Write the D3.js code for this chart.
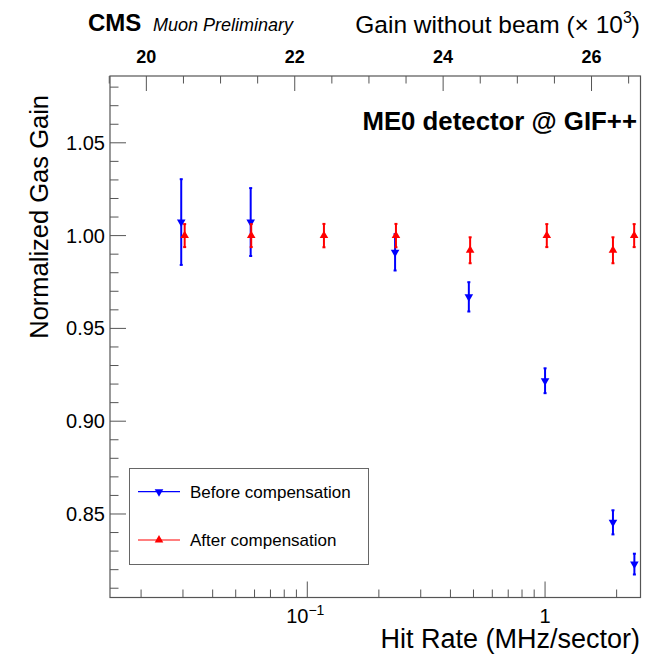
<!DOCTYPE html>
<html>
<head>
<meta charset="utf-8">
<script src="https://cdn.jsdelivr.net/npm/d3@7"></script>
<style>
  body { margin: 0; background: #fff; }
  svg text { font-family: "Liberation Sans", Arial, Helvetica, sans-serif; fill: #000; }
</style>
</head>
<body>
<div id="chart"></div>
<script>
// hit rate (MHz/sector) and normalized gain
var rateBefore = [0.0295, 0.0578, 0.234, 0.478, 1.0, 1.93, 2.375];
var gainBefore = [1.0073, 1.0073, 0.991, 0.967, 0.9218, 0.8455, 0.823];
var errBefore  = [0.0231, 0.0183, 0.0098, 0.0079, 0.0067, 0.0065, 0.0056];

var rateAfter = [0.0305, 0.0581, 0.1175, 0.236, 0.484, 1.017, 1.93, 2.37];
var gainAfter = [1.000, 1.000, 1.000, 1.000, 0.9921, 1.000, 0.9921, 1.000];
var errAfter  = [0.0062, 0.0062, 0.0063, 0.0063, 0.0070, 0.0062, 0.0070, 0.0062];

var yMajorTicks = [0.85, 0.90, 0.95, 1.00, 1.05];
var gainTicks = [20, 22, 24, 26];

var W = 646, H = 655;
var frameL = 110, frameR = 640.5, frameT = 76, frameB = 597.5;

var svg = d3.select("#chart").append("svg")
  .attr("width", W).attr("height", H);

var x = d3.scaleLog().domain([0.0148, 2.52]).range([frameL, frameR]);
var y = d3.scaleLinear().domain([0.805, 1.086]).range([frameB, frameT]);
var g = d3.scaleLinear().domain([19.51, 26.66]).range([frameL, frameR]);

var axisColor = "#555";

// frame
svg.append("rect")
  .attr("x", frameL).attr("y", frameT)
  .attr("width", frameR - frameL).attr("height", frameB - frameT)
  .attr("fill", "none").attr("stroke", axisColor).attr("stroke-width", 1.2);

// y ticks (every 0.01, major every 0.05)
var yTicks = d3.range(81, 109).map(function(i) { return i / 100; });
svg.selectAll(".ytick").data(yTicks).enter().append("line")
  .attr("x1", frameL).attr("x2", function(d) {
    return frameL + (Math.round(d * 100) % 5 === 0 ? 16 : 8.5);
  })
  .attr("y1", function(d) { return y(d); }).attr("y2", function(d) { return y(d); })
  .attr("stroke", axisColor).attr("stroke-width", 1);

svg.selectAll(".ylab").data(yMajorTicks).enter().append("text")
  .attr("x", 105).attr("y", function(d) { return y(d) + 7; })
  .attr("text-anchor", "end").style("font-size", "20px")
  .text(function(d) { return d.toFixed(2); });

// x ticks (log, minor at 2..9)
var xTicks = [];
[0.01, 0.1, 1].forEach(function(dec) {
  for (var k = 1; k <= 9; k++) {
    var v = dec * k;
    if (v >= x.domain()[0] && v <= x.domain()[1]) xTicks.push({v: v, major: k === 1});
  }
});
svg.selectAll(".xtick").data(xTicks).enter().append("line")
  .attr("x1", function(d) { return x(d.v); }).attr("x2", function(d) { return x(d.v); })
  .attr("y1", frameB).attr("y2", function(d) { return frameB - (d.major ? 16 : 8); })
  .attr("stroke", axisColor).attr("stroke-width", 1);

var xl1 = svg.append("text").attr("x", x(0.1) - 2).attr("y", 623)
  .attr("text-anchor", "middle").style("font-size", "20px");
xl1.append("tspan").text("10");
xl1.append("tspan").attr("dy", -8).style("font-size", "14px").text("\u22121");
svg.append("text").attr("x", x(1)).attr("y", 623)
  .attr("text-anchor", "middle").style("font-size", "20px").text("1");

// top gain axis (every 0.5, major every 2)
var gTicks = d3.range(39, 54).map(function(i) { return i / 2; });
svg.selectAll(".gtick").data(gTicks).enter().append("line")
  .attr("x1", function(d) { return g(d); }).attr("x2", function(d) { return g(d); })
  .attr("y1", frameT).attr("y2", function(d) { return frameT + (d % 2 === 0 ? 15 : 7.5); })
  .attr("stroke", axisColor).attr("stroke-width", 1);

svg.selectAll(".glab").data(gainTicks).enter().append("text")
  .attr("x", function(d) { return g(d); }).attr("y", 63)
  .attr("text-anchor", "middle").style("font-size", "18px").style("font-weight", "bold")
  .text(function(d) { return d; });

// titles
svg.append("text").attr("x", 640).attr("y", 648)
  .attr("text-anchor", "end").style("font-size", "27px")
  .text("Hit Rate (MHz/sector)");

svg.append("text")
  .attr("transform", "translate(48,95) rotate(-90)")
  .attr("text-anchor", "end").style("font-size", "25.5px")
  .text("Normalized Gas Gain");

var gt = svg.append("text").attr("x", 640).attr("y", 33)
  .attr("text-anchor", "end").style("font-size", "24.5px");
gt.append("tspan").text("Gain without beam (\u00d7 10");
gt.append("tspan").attr("dy", -10).style("font-size", "16px").text("3");
gt.append("tspan").attr("dy", 10).text(")");

svg.append("text").attr("x", 88).attr("y", 31)
  .style("font-size", "24px").style("font-weight", "bold").text("CMS");
svg.append("text").attr("x", 153).attr("y", 31)
  .style("font-size", "18px").style("font-style", "italic").text("Muon Preliminary");

svg.append("text").attr("x", 637).attr("y", 130)
  .attr("text-anchor", "end").style("font-size", "25.8px").style("font-weight", "bold")
  .text("ME0 detector @ GIF++");

// data series
var triangle = d3.symbol().type(d3.symbolTriangle).size(32);

function drawSeries(rates, gains, errs, color, down) {
  var pts = rates.map(function(r, i) { return {r: r, v: gains[i], e: errs[i]}; });
  var grp = svg.append("g");
  grp.selectAll(".bar").data(pts).enter().append("line")
    .attr("x1", function(d) { return x(d.r); }).attr("x2", function(d) { return x(d.r); })
    .attr("y1", function(d) { return y(d.v + d.e); }).attr("y2", function(d) { return y(d.v - d.e); })
    .attr("stroke", color).attr("stroke-width", 2);
  grp.selectAll(".cap").data(pts.concat(pts)).enter().append("line")
    .attr("x1", function(d) { return x(d.r) - 1.5; }).attr("x2", function(d) { return x(d.r) + 1.5; })
    .attr("y1", function(d, i) { return y(i < pts.length ? d.v + d.e : d.v - d.e); })
    .attr("y2", function(d, i) { return y(i < pts.length ? d.v + d.e : d.v - d.e); })
    .attr("stroke", color).attr("stroke-width", 2);
  grp.selectAll(".mk").data(pts).enter().append("path")
    .attr("d", triangle)
    .attr("transform", function(d) {
      return "translate(" + x(d.r) + "," + y(d.v) + ")" + (down ? " rotate(180)" : "");
    })
    .attr("fill", color);
}

drawSeries(rateBefore, gainBefore, errBefore, "#0000ff", true);
drawSeries(rateAfter, gainAfter, errAfter, "#ff0000", false);

// legend
var legend = svg.append("g");
legend.append("rect")
  .attr("x", 129.5).attr("y", 468.5).attr("width", 239).attr("height", 96)
  .attr("fill", "#fff").attr("stroke", "#666").attr("stroke-width", 1);

var legendItems = [
  {label: "Before compensation", color: "#0000ff", down: true, cy: 491.7},
  {label: "After compensation", color: "#ff0000", down: false, cy: 540}
];
legendItems.forEach(function(it) {
  legend.append("line").attr("x1", 138).attr("x2", 180)
    .attr("y1", it.cy).attr("y2", it.cy)
    .attr("stroke", it.color).attr("stroke-width", 1.2);
  legend.append("path").attr("d", triangle)
    .attr("transform", "translate(159," + it.cy + ")" + (it.down ? " rotate(180)" : ""))
    .attr("fill", it.color);
  legend.append("text").attr("x", 190).attr("y", it.cy + 6)
    .style("font-size", "17px").text(it.label);
});
</script>
</body>
</html>
